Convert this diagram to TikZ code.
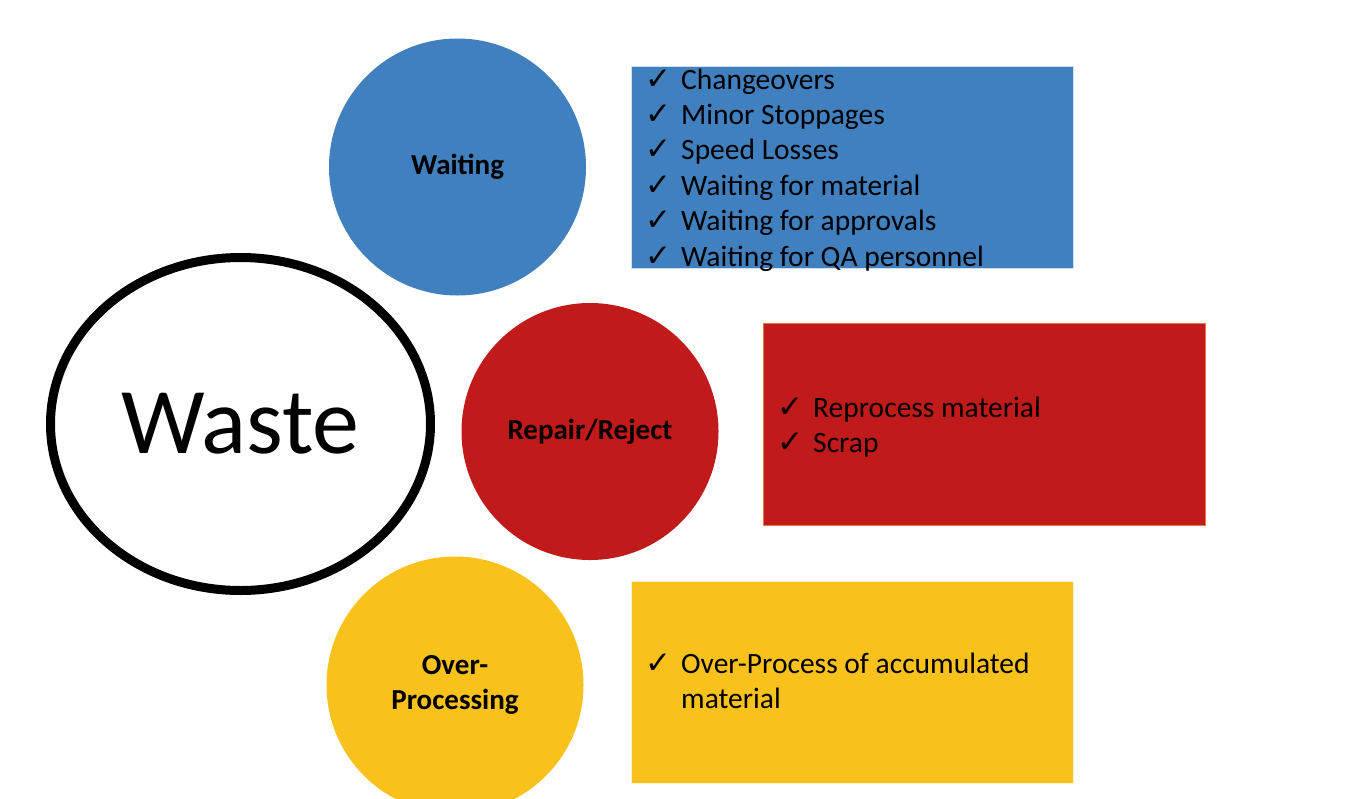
\documentclass[tikz,border=0pt]{standalone}
\usepackage{fontspec}
\usetikzlibrary{shapes.geometric}
\setmainfont{Carlito}
\newfontfamily\symfont{DejaVu Sans}
\definecolor{wblue}{RGB}{65,128,190}
\definecolor{wred}{RGB}{192,26,26}
\definecolor{wyellow}{RGB}{249,193,27}
\definecolor{wredline}{RGB}{222,120,70}
\newcommand{\ck}{\makebox[36pt][l]{\symfont\bfseries\fontsize{31}{30}\selectfont ✓}}
\tikzset{
  bubble/.style={circle, minimum size=257pt, inner sep=0pt, draw=none,
    font=\fontsize{29}{34.5}\selectfont\bfseries, align=center, text=black},
  item/.style={anchor=base west, inner sep=0pt, font=\fontsize{29.5}{35}\selectfont, text=black},
}
\begin{document}
\begin{tikzpicture}[x=1pt, y=-1pt]
  \useasboundingbox (0,0) rectangle (1364,798);
  \fill[white] (0,0) rectangle (1364,798);

  % central ellipse
  \node[ellipse, draw=black, line width=9pt,
        minimum width=380pt, minimum height=333pt, inner sep=0pt,
        font=\fontsize{94}{100}\selectfont] (waste) at (240.5,424) {Waste};

  % category bubbles
  \node[bubble, fill=wblue] (waiting) at (457.5,167) {Waiting};
  \node[bubble, fill=wred] (repair) at (590,431.5) {Repair/Reject};
  \node[bubble, fill=wyellow] (over) at (455,685) {Over-\\Processing};

  % detail boxes
  \fill[wblue] (631,66) rectangle (1073,268);
  \draw[white!75!wblue, line width=0.8pt] (631,66) rectangle (1073,268);
  \fill[wred] (763,323) rectangle (1205,525);
  \draw[wredline, line width=0.8pt] (763,323) rectangle (1205,525);
  \fill[wyellow] (631,581) rectangle (1073,783);
  \draw[white!80!wyellow, line width=0.8pt] (631,581) rectangle (1073,783);

  % waiting items
  \foreach \t [count=\i] in {Changeovers, Minor Stoppages, Speed Losses,
      Waiting for material, Waiting for approvals, Waiting for QA personnel}
    \node[item] (w\i) at (645, 53.6+35.4*\i) {\ck\t};

  % repair items
  \node[item] (r1) at (777,417) {\ck Reprocess material};
  \node[item] (r2) at (777,452) {\ck Scrap};

  % over-processing items
  \node[item] (o1) at (645,673) {\ck Over-Process of accumulated};
  \node[item] (o2) at (681,708) {material};
\end{tikzpicture}
\end{document}
